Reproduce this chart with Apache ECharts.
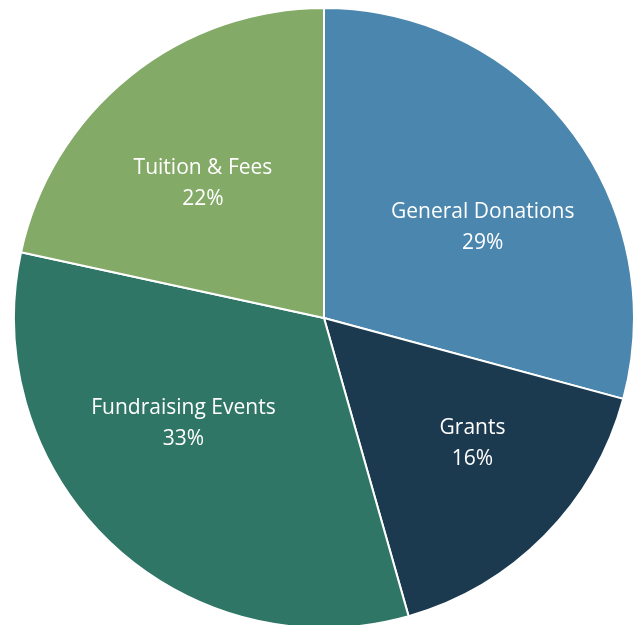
<!DOCTYPE html>
<html>
<head>
<meta charset="utf-8">
<script src="https://cdn.jsdelivr.net/npm/echarts@6/dist/echarts.min.js"></script>
<style>
  html, body { margin: 0; padding: 0; background: #fff; }
  #chart { width: 642px; height: 625px; }
</style>
</head>
<body>
<div id="chart"></div>
<script>
const categories = ['General Donations', 'Grants', 'Fundraising Events', 'Tuition & Fees'];
const shares = [29.2, 16.4, 32.8, 21.6];
const colors = ['#4A86AD', '#1C3A4F', '#2F7666', '#84AA68'];

const CX = 324, CY = 318, R = 310;
// small label nudges, like the spreadsheet's best-fit placement
const labelNudge = [[12, 22], [17, -4], [-14, -29], [-5, 9]];

const chart = echarts.init(document.getElementById('chart'));

const option = {
  backgroundColor: '#ffffff',
  animation: false,
  series: [{
    type: 'pie',
    center: [CX, CY],
    radius: [0, R],
    startAngle: 90,
    clockwise: true,
    data: categories.map((name, i) => ({
      name: name,
      value: shares[i],
      itemStyle: { color: colors[i] }
    })),
    itemStyle: { borderColor: '#ffffff', borderWidth: 2 },
    label: {
      show: true,
      position: 'inside',
      formatter: p => p.name + '\n' + Math.round(p.value) + '%',
      color: '#ffffff',
      fontFamily: 'Open Sans',
      fontSize: 21,
      lineHeight: 31,
      align: 'center'
    },
    labelLine: { show: false },
    labelLayout: params => {
      const r = params.labelRect;
      const cx = r.x + r.width / 2;
      const cy = r.y + r.height / 2;
      const n = labelNudge[params.dataIndex];
      return {
        x: CX + (cx - CX) * 1.17 + n[0],
        y: CY + (cy - CY) * 1.17 + n[1]
      };
    },
    emphasis: { disabled: true }
  }]
};

chart.setOption(option);
</script>
</body>
</html>
